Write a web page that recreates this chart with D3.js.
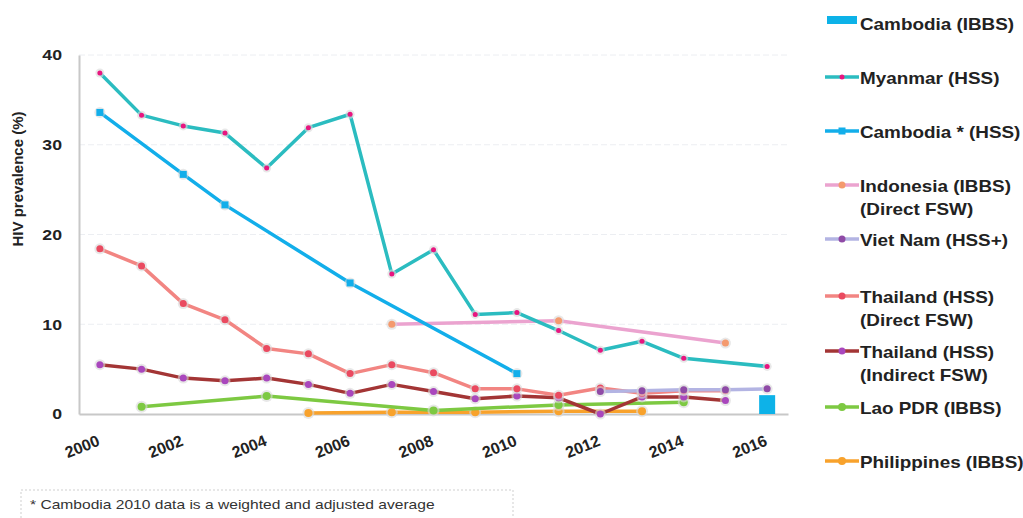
<!DOCTYPE html>
<html>
<head>
<meta charset="utf-8">
<script src="https://cdn.jsdelivr.net/npm/d3@7"></script>
<style>
  body { margin: 0; background: #fff; font-family: "Liberation Sans", Arial, sans-serif; }
  .tick text { font-weight: bold; }
</style>
</head>
<body>
<div id="chart"></div>
<script>
// data (null = no survey that year)
var years = d3.range(2000, 2017);
var xTickLabels = ["2000", "2002", "2004", "2006", "2008", "2010", "2012", "2014", "2016"];
var yTicks = [0, 10, 20, 30, 40];

var myanmar =      [38.0, 33.3, 32.1, 31.3, 27.4, 31.9, 33.4, 15.6, 18.3, 11.1, 11.3, 9.3, 7.1, 8.1, 6.2, null, 5.3];
var cambodiaHss =  [33.6, null, 26.7, 23.3, null, null, 14.6, null, null, null, 4.5, null, null, null, null, null, null];
var indonesia =    [null, null, null, null, null, null, null, 10.0, null, null, null, 10.4, null, null, null, 7.9, null];
var vietNam =      [null, null, null, null, null, null, null, null, null, null, null, null, 2.5, 2.6, 2.7, 2.7, 2.8];
var thaiDirect =   [18.4, 16.5, 12.3, 10.5, 7.3, 6.7, 4.5, 5.5, 4.6, 2.8, 2.8, 2.1, 2.9, 2.3, 2.6, 2.6, null];
var thaiIndirect = [5.5, 5.0, 4.0, 3.7, 4.0, 3.3, 2.3, 3.3, 2.5, 1.7, 2.0, 1.8, 0.0, 1.9, 1.9, 1.5, null];
var lao =          [null, 0.8, null, null, 2.0, null, null, null, 0.4, null, null, 1.0, null, null, 1.3, null, null];
var philippines =  [null, null, null, null, null, 0.1, null, 0.2, null, 0.2, null, 0.3, null, 0.3, null, null, null];
var cambodiaIbbs = [null, null, null, null, null, null, null, null, null, null, null, null, null, null, null, null, 2.1];

var series = [
  {name: ["Myanmar (HSS)"], values: myanmar, line: "#2bbcc0", marker: "#e8157f", r: 2.5, shape: "circle"},
  {name: ["Cambodia * (HSS)"], values: cambodiaHss, line: "#12aeea", marker: "#12aeea", r: 3.5, shape: "square"},
  {name: ["Indonesia (IBBS)", "(Direct FSW)"], values: indonesia, line: "#eba3cf", marker: "#f49a6e", r: 3.5, shape: "circle"},
  {name: ["Viet Nam (HSS+)"], values: vietNam, line: "#b3b4e3", marker: "#8f4aa6", r: 3.5, shape: "circle"},
  {name: ["Thailand (HSS)", "(Direct FSW)"], values: thaiDirect, line: "#f28582", marker: "#ea4a60", r: 3.5, shape: "circle"},
  {name: ["Thailand (HSS)", "(Indirect FSW)"], values: thaiIndirect, line: "#a33535", marker: "#a947bd", r: 3.5, shape: "circle"},
  {name: ["Lao PDR (IBBS)"], values: lao, line: "#7dc942", marker: "#7dc942", r: 4, shape: "circle"},
  {name: ["Philippines (IBBS)"], values: philippines, line: "#f8a22c", marker: "#f8a22c", r: 4, shape: "circle"}
];

// legend layout: swatch line y, text baseline y (same order as series)
var legendLineY = [77, 131, 185, 239, 296, 351, 407, 461];
var legendTextY = [84, 138, 192, 246, 303, 358, 414, 468];

var width = 1023, height = 518;
var svg = d3.select("#chart").append("svg")
    .attr("width", width)
    .attr("height", height);

// the source picture is a bit stretched sideways, so text gets a horizontal scale
var stretch = 1.18;

// scales
var x = d3.scaleBand().domain(years).range([79, 788]);
var cx = function(yr) { return x(yr) + x.bandwidth() / 2; };
var y = d3.scaleLinear().domain([0, 40]).range([414, 55]);

// faint gridlines
svg.append("g")
    .selectAll("line")
    .data(yTicks.slice(1))
    .enter().append("line")
    .attr("x1", 79).attr("x2", 788)
    .attr("y1", function(d) { return y(d); })
    .attr("y2", function(d) { return y(d); })
    .attr("stroke", "#eceef2")
    .attr("stroke-dasharray", "6,3");

// Y axis
var yAxis = svg.append("g")
    .attr("transform", "translate(79,0)")
    .call(d3.axisLeft(y).tickValues(yTicks).tickSize(0));
yAxis.select(".domain").attr("stroke", "#c8c8c8").attr("stroke-width", 2);
yAxis.selectAll("text").attr("font-size", 15).attr("fill", "#222")
    .attr("font-family", "Liberation Sans, Arial, sans-serif")
    .attr("x", -17 / stretch)
    .attr("transform", "scale(" + stretch + ",1)");

svg.append("text")
    .attr("transform", "translate(23,179) rotate(-90)")
    .attr("text-anchor", "middle")
    .attr("font-size", 15)
    .attr("font-weight", "bold")
    .attr("fill", "#222")
    .text("HIV prevalence (%)");

// X axis
var xAxis = svg.append("g")
    .attr("transform", "translate(0,414)")
    .call(d3.axisBottom(x).tickSize(0).tickValues(xTickLabels.map(Number)));
xAxis.select(".domain").attr("stroke", "#c8c8c8").attr("stroke-width", 2);
xAxis.selectAll("text")
    .attr("font-size", 16).attr("fill", "#222")
    .attr("font-family", "Liberation Sans, Arial, sans-serif")
    .style("text-anchor", "end")
    .attr("x", 0).attr("y", 0).attr("dy", 0)
    .attr("transform", "translate(1,31) rotate(-22)");

// Cambodia (IBBS) bar
var barW = 16;
svg.append("g")
    .selectAll("rect")
    .data(years.filter(function(d, i) { return cambodiaIbbs[i] != null; }))
    .enter().append("rect")
    .attr("x", function(d) { return cx(d) - barW / 2; })
    .attr("width", barW)
    .attr("y", function(d) { return y(cambodiaIbbs[years.indexOf(d)]); })
    .attr("height", function(d) { return y(0) - y(cambodiaIbbs[years.indexOf(d)]); })
    .attr("fill", "#0db2e8");

var line = d3.line()
    .x(function(d) { return cx(d.year); })
    .y(function(d) { return y(d.v); });

series.slice().reverse().forEach(function(s) {
  var pts = years.map(function(yr, i) { return {year: yr, v: s.values[i]}; })
      .filter(function(d) { return d.v != null; });
  var g = svg.append("g");
  g.append("path")
      .datum(pts)
      .attr("d", line)
      .attr("fill", "none")
      .attr("stroke", s.line)
      .attr("stroke-width", 3.5)
      .attr("stroke-linejoin", "round");
  // soft halo behind markers
  g.selectAll(".halo")
      .data(pts)
      .enter().append("circle")
      .attr("cx", function(d) { return cx(d.year); })
      .attr("cy", function(d) { return y(d.v); })
      .attr("r", s.r + 2)
      .attr("fill", "#d8d8d8")
      .attr("opacity", 0.6);
  if (s.shape == "square") {
    g.selectAll(".mk")
        .data(pts)
        .enter().append("rect")
        .attr("x", function(d) { return cx(d.year) - s.r; })
        .attr("y", function(d) { return y(d.v) - s.r; })
        .attr("width", s.r * 2).attr("height", s.r * 2)
        .attr("fill", s.marker);
  } else {
    g.selectAll(".mk")
        .data(pts)
        .enter().append("circle")
        .attr("cx", function(d) { return cx(d.year); })
        .attr("cy", function(d) { return y(d.v); })
        .attr("r", s.r)
        .attr("fill", s.marker);
  }
});

// legend
var legend = svg.append("g").attr("font-size", 16).attr("font-weight", "bold").attr("fill", "#222");
legend.append("rect")
    .attr("x", 827).attr("y", 16).attr("width", 30).attr("height", 8)
    .attr("fill", "#0db2e8");
legend.append("text")
    .attr("transform", "translate(860,30) scale(" + stretch + ",1)")
    .text("Cambodia (IBBS)");

series.forEach(function(s, i) {
  var ly = legendLineY[i];
  legend.append("line")
      .attr("x1", 825).attr("x2", 859)
      .attr("y1", ly).attr("y2", ly)
      .attr("stroke", s.line).attr("stroke-width", 3.5);
  if (s.shape == "square") {
    legend.append("rect")
        .attr("x", 842 - s.r).attr("y", ly - s.r)
        .attr("width", s.r * 2).attr("height", s.r * 2)
        .attr("fill", s.marker);
  } else {
    legend.append("circle")
        .attr("cx", 842).attr("cy", ly).attr("r", s.r)
        .attr("fill", s.marker);
  }
  s.name.forEach(function(t, j) {
    legend.append("text")
        .attr("transform", "translate(860," + (legendTextY[i] + j * 23) + ") scale(" + stretch + ",1)")
        .text(t);
  });
});

// footnote box
svg.append("rect")
    .attr("x", 21).attr("y", 490).attr("width", 492).attr("height", 40)
    .attr("fill", "none")
    .attr("stroke", "#cfcfcf")
    .attr("stroke-dasharray", "2,2");
svg.append("text")
    .attr("transform", "translate(30,509) scale(1.2,1)")
    .attr("font-size", 13)
    .attr("fill", "#333")
    .text("* Cambodia 2010 data is a weighted and adjusted average");
</script>
</body>
</html>
